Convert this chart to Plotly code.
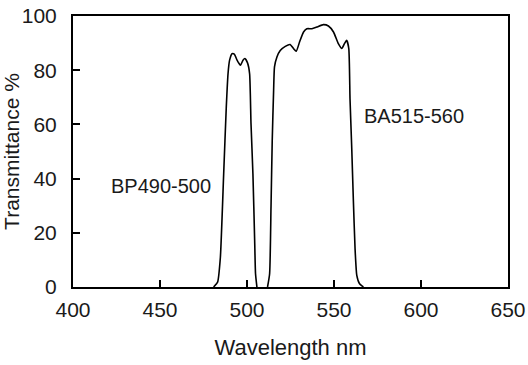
import plotly.graph_objects as go

# Band-pass filter BP490-500
bp_wl = [480.8, 483.1, 484.7, 486.6, 488.1, 489.1, 490.0, 491.4, 492.7, 494.3, 496.2,
         497.7, 498.8, 500.3, 501.5, 502.3, 503.4, 504.4, 504.9, 505.7]
bp_t = [0, 1.8, 11, 41.8, 66.4, 78.7, 83.7, 86.1, 85.9, 83.7, 81.8,
        83.7, 84.3, 82.7, 78.7, 60.3, 41.8, 17.2, 4.9, 0]

# Barrier filter BA515-560
ba_wl = [511.8, 513.0, 513.8, 514.5, 515.3, 515.8, 517.2, 519.1, 522.0, 524.8, 526.7,
         528.3, 530.2, 532.5, 534.4, 537.3, 540.1, 543.9, 546.8, 549.7, 552.5, 554.5,
         556.0, 557.3, 558.5, 559.2, 560.2, 561.1, 562.1, 563.1, 564.6, 566.9]
ba_t = [0, 4.9, 29.5, 54.1, 72.6, 81.2, 84.9, 87.3, 88.8, 89.5, 88.0,
        87.0, 90.4, 94.1, 95.3, 95.3, 95.9, 96.8, 96.3, 94.1, 89.8, 88.0,
        89.8, 91.0, 88.0, 69.5, 51.1, 32.6, 14.2, 4.3, 1.3, 0]

x_ticks = [400, 450, 500, 550, 600, 650]
y_ticks = [0, 20, 40, 60, 80, 100]

labels = ["BP490-500", "BA515-560"]
label_x = [450.3, 595.8]
label_y = [37.2, 63.0]

FONT = "Liberation Sans, Arial, Helvetica, sans-serif"
TXT = "#1a1a1a"

fig = go.Figure()
fig.add_trace(go.Scatter(x=bp_wl, y=bp_t, mode="lines", line_shape="spline",
                         line=dict(color="black", width=1.6, smoothing=0.5), showlegend=False))
fig.add_trace(go.Scatter(x=ba_wl, y=ba_t, mode="lines", line_shape="spline",
                         line=dict(color="black", width=1.6, smoothing=0.5), showlegend=False))

for t, x, y in zip(labels, label_x, label_y):
    fig.add_annotation(x=x, y=y, text=t, showarrow=False,
                       font=dict(family=FONT, size=20, color=TXT))

fig.update_layout(
    width=528, height=365,
    margin=dict(l=73, r=20, t=16, b=78),
    paper_bgcolor="white", plot_bgcolor="white",
    font=dict(family=FONT, size=20, color=TXT),
)
fig.update_xaxes(range=[400, 650], tickvals=x_ticks, ticks="inside", ticklen=7,
                 tickwidth=1.5, tickcolor="black", showline=True, linewidth=2,
                 linecolor="black", mirror=True, showgrid=False, zeroline=False,
                 automargin=False,
                 tickfont=dict(family=FONT, size=21, color=TXT),
                 ticklabelstandoff=3,
                 title=dict(text="Wavelength nm", font=dict(family=FONT, size=22, color=TXT),
                            standoff=19))
fig.update_yaxes(range=[0, 100], tickvals=y_ticks, ticks="inside", ticklen=7,
                 tickwidth=1.5, tickcolor="black", showline=True, linewidth=2,
                 linecolor="black", mirror=True, showgrid=False, zeroline=False,
                 automargin=False,
                 tickfont=dict(family=FONT, size=21, color=TXT),
                 ticklabelstandoff=10,
                 title=dict(text="Transmittance %", font=dict(family=FONT, size=21, color=TXT),
                            standoff=0))

fig.write_html("out.html")
